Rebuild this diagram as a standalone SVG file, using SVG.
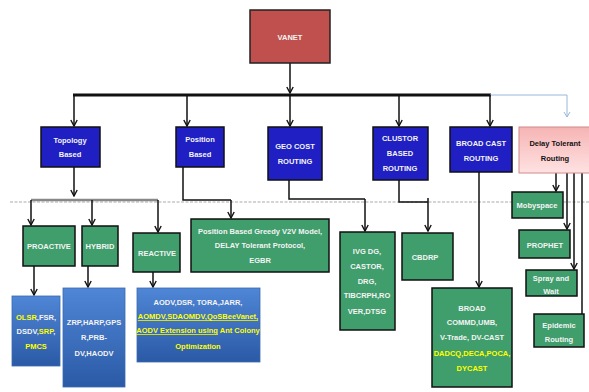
<svg xmlns="http://www.w3.org/2000/svg" width="589" height="392" viewBox="0 0 589 392">
<defs>
<marker id="ah" markerWidth="8" markerHeight="8" refX="7" refY="4" orient="auto" markerUnits="userSpaceOnUse" viewBox="0 0 8 8">
<path d="M1,0.8 L7,4 L1,7.2" fill="none" stroke="#111" stroke-width="1.4"/>
</marker>
<marker id="ahb" markerWidth="8" markerHeight="8" refX="7" refY="4" orient="auto" markerUnits="userSpaceOnUse" viewBox="0 0 8 8">
<path d="M2,1 L7,4 L2,7" fill="none" stroke="#9ab8d8" stroke-width="1"/>
</marker>
<linearGradient id="gblue" x1="0" y1="0" x2="0" y2="1">
<stop offset="0" stop-color="#4f86d6"/>
<stop offset="1" stop-color="#2b5aa6"/>
</linearGradient>
<linearGradient id="gpink" x1="0" y1="0" x2="0" y2="1">
<stop offset="0" stop-color="#f6b4b4"/>
<stop offset="1" stop-color="#ffe2e2"/>
</linearGradient>
</defs>
<style>
text{font-family:"Liberation Sans Narrow","Liberation Sans",Arial,sans-serif;font-weight:bold;font-size:7.5px;text-anchor:middle;fill:#f4f4f4}
.red{fill:#c0504d;stroke:#222;stroke-width:1.5}
.db{fill:#1f1fc4;stroke:#111;stroke-width:1.5}
.gr{fill:#3f9e6c;stroke:#111;stroke-width:1.5}
.bl{fill:url(#gblue);stroke:#3a6ab0;stroke-width:0.8}
.pk{fill:url(#gpink);stroke:#d08a8a;stroke-width:1}
.y{fill:#ffff00}
.dk{fill:#111}
.c{fill:none;stroke:#111;stroke-width:1.5}
.a{marker-end:url(#ah)}
</style>
<rect width="589" height="392" fill="#fff"/>
<line x1="10" y1="202" x2="589" y2="202" stroke="#aaa" stroke-width="1" stroke-dasharray="3,1.5"/>
<g id="connectors">
<line class="c a" x1="290" y1="63" x2="290" y2="93"/>
<line x1="73" y1="95" x2="491" y2="95" stroke="#111" stroke-width="3"/>
<polyline points="490,95 567,95 567,117" fill="none" stroke="#9ab8d8" stroke-width="1" marker-end="url(#ahb)"/>
<line class="c a" x1="74" y1="95" x2="74" y2="126"/>
<line class="c a" x1="187" y1="95" x2="187" y2="126"/>
<line class="c a" x1="290" y1="95" x2="290" y2="126"/>
<line class="c a" x1="399" y1="95" x2="399" y2="126"/>
<line class="c a" x1="490" y1="95" x2="490" y2="126"/>
<line class="c a" x1="74" y1="167" x2="74" y2="196"/>
<line x1="31" y1="200" x2="158" y2="200" stroke="#888" stroke-width="2.5"/>
<line class="c a" x1="31" y1="200" x2="31" y2="225"/>
<line class="c a" x1="92" y1="200" x2="92" y2="225"/>
<line class="c a" x1="158" y1="200" x2="158" y2="232"/>
<line class="c a" x1="34" y1="266" x2="34" y2="295"/>
<line class="c a" x1="88" y1="266" x2="88" y2="287"/>
<line class="c a" x1="153" y1="272" x2="153" y2="287"/>
<polyline class="c" points="183,167 183,200 231,200"/>
<line class="c a" x1="231" y1="200" x2="231" y2="218"/>
<polyline class="c" points="289,180 289,199 365,199"/>
<line class="c a" x1="365" y1="199" x2="365" y2="231"/>
<polyline class="c" points="399,180 399,202 428,202"/>
<line class="c a" x1="428" y1="198" x2="428" y2="231"/>
<line class="c a" x1="479" y1="172" x2="479" y2="287"/>
<line class="c a" x1="556" y1="173" x2="556" y2="191"/>
<line class="c a" x1="567" y1="173" x2="567" y2="229"/>
<line class="c a" x1="574" y1="173" x2="574" y2="269"/>
<line class="c" x1="582" y1="173" x2="582" y2="314"/>
</g>
<g id="vanet"><rect class="red" x="250" y="10" width="80" height="53"/><text x="290" y="40" font-size="9">VANET</text></g>
<g id="topology"><rect class="db" x="41" y="127" width="59" height="40"/><text x="70" y="143">Topology</text><text x="70" y="157">Based</text></g>
<g id="position"><rect class="db" x="176" y="127" width="48" height="40"/><text x="200" y="142">Position</text><text x="200" y="157">Based</text></g>
<g id="geocost"><rect class="db" x="268" y="127" width="54" height="53"/><text x="295" y="149">GEO COST</text><text x="295" y="164">ROUTING</text></g>
<g id="clustor"><rect class="db" x="373" y="127" width="55" height="53"/><text x="400" y="141">CLUSTOR</text><text x="400" y="156">BASED</text><text x="400" y="171">ROUTING</text></g>
<g id="broadcast"><rect class="db" x="450" y="127" width="62" height="45"/><text x="481" y="146">BROAD CAST</text><text x="481" y="161">ROUTING</text></g>
<g id="delay"><rect class="pk" x="519" y="127" width="72" height="46"/><text class="dk" x="555" y="146">Delay Tolerant</text><text class="dk" x="555" y="161">Routing</text></g>
<g id="proactive"><rect class="gr" x="23" y="226" width="52" height="40"/><text x="49" y="249">PROACTIVE</text></g>
<g id="hybrid"><rect class="gr" x="82" y="226" width="36" height="40"/><text x="100" y="249">HYBRID</text></g>
<g id="reactive"><rect class="gr" x="133" y="233" width="47" height="39"/><text x="157" y="256">REACTIVE</text></g>
<g id="proactive-list"><rect class="bl" x="12" y="296" width="48" height="70"/>
<text x="36" y="320"><tspan class="y">OLSR</tspan>,FSR,</text>
<text x="36" y="334">DSDV,<tspan class="y">SRP</tspan>,</text>
<text x="36" y="349" class="y">PMCS</text></g>
<g id="hybrid-list"><rect class="bl" x="63" y="288" width="62" height="99"/>
<text x="94" y="325">ZRP,HARP,GPS</text><text x="94" y="340">R,PRB-</text><text x="94" y="356">DV,HAODV</text></g>
<g id="reactive-list"><rect class="bl" x="137" y="288" width="123" height="74"/>
<text x="198" y="305">AODV,DSR, TORA,JARR,</text>
<text x="198" y="319" class="y" text-decoration="underline">AOMDV,SDAOMDV,QoSBeeVanet,</text>
<text x="198" y="333" class="y"><tspan text-decoration="underline">AODV  Extension using</tspan> Ant Colony</text>
<text x="198" y="349" class="y">Optimization</text></g>
<g id="position-list"><rect class="gr" x="191" y="219" width="138" height="53"/>
<text x="260" y="234">Position Based  Greedy V2V Model,</text><text x="260" y="248">DELAY  Tolerant  Protocol,</text><text x="260" y="263">EGBR</text></g>
<g id="geocost-list"><rect class="gr" x="340" y="232" width="55" height="98"/>
<text x="367" y="254">IVG DG,</text><text x="367" y="269">CASTOR,</text><text x="367" y="284">DRG,</text><text x="367" y="298">TIBCRPH,RO</text><text x="367" y="314">VER,DTSG</text></g>
<g id="cbdrp"><rect class="gr" x="402" y="233" width="51" height="47"/><text x="425" y="260">CBDRP</text></g>
<g id="broadcast-list"><rect class="gr" x="432" y="288" width="80" height="99"/>
<text x="472" y="311">BROAD</text><text x="472" y="325">COMMD,UMB,</text><text x="472" y="340">V-Trade, DV-CAST</text>
<text x="472" y="356" class="y">DADCQ,DECA,POCA,</text><text x="472" y="371" class="y">DYCAST</text></g>
<g id="mobyspace"><rect class="gr" x="512" y="192" width="51" height="26"/><text x="537" y="208">Mobyspace</text></g>
<g id="prophet"><rect class="gr" x="519" y="230" width="51" height="28"/><text x="545" y="248">PROPHET</text></g>
<g id="spray"><rect class="gr" x="526" y="270" width="51" height="26"/><text x="551" y="281">Spray and</text><text x="551" y="294">Wait</text></g>
<g id="epidemic"><rect class="gr" x="534" y="314" width="50" height="33"/><text x="559" y="328">Epidemic</text><text x="559" y="342">Routing</text></g>
</svg>
